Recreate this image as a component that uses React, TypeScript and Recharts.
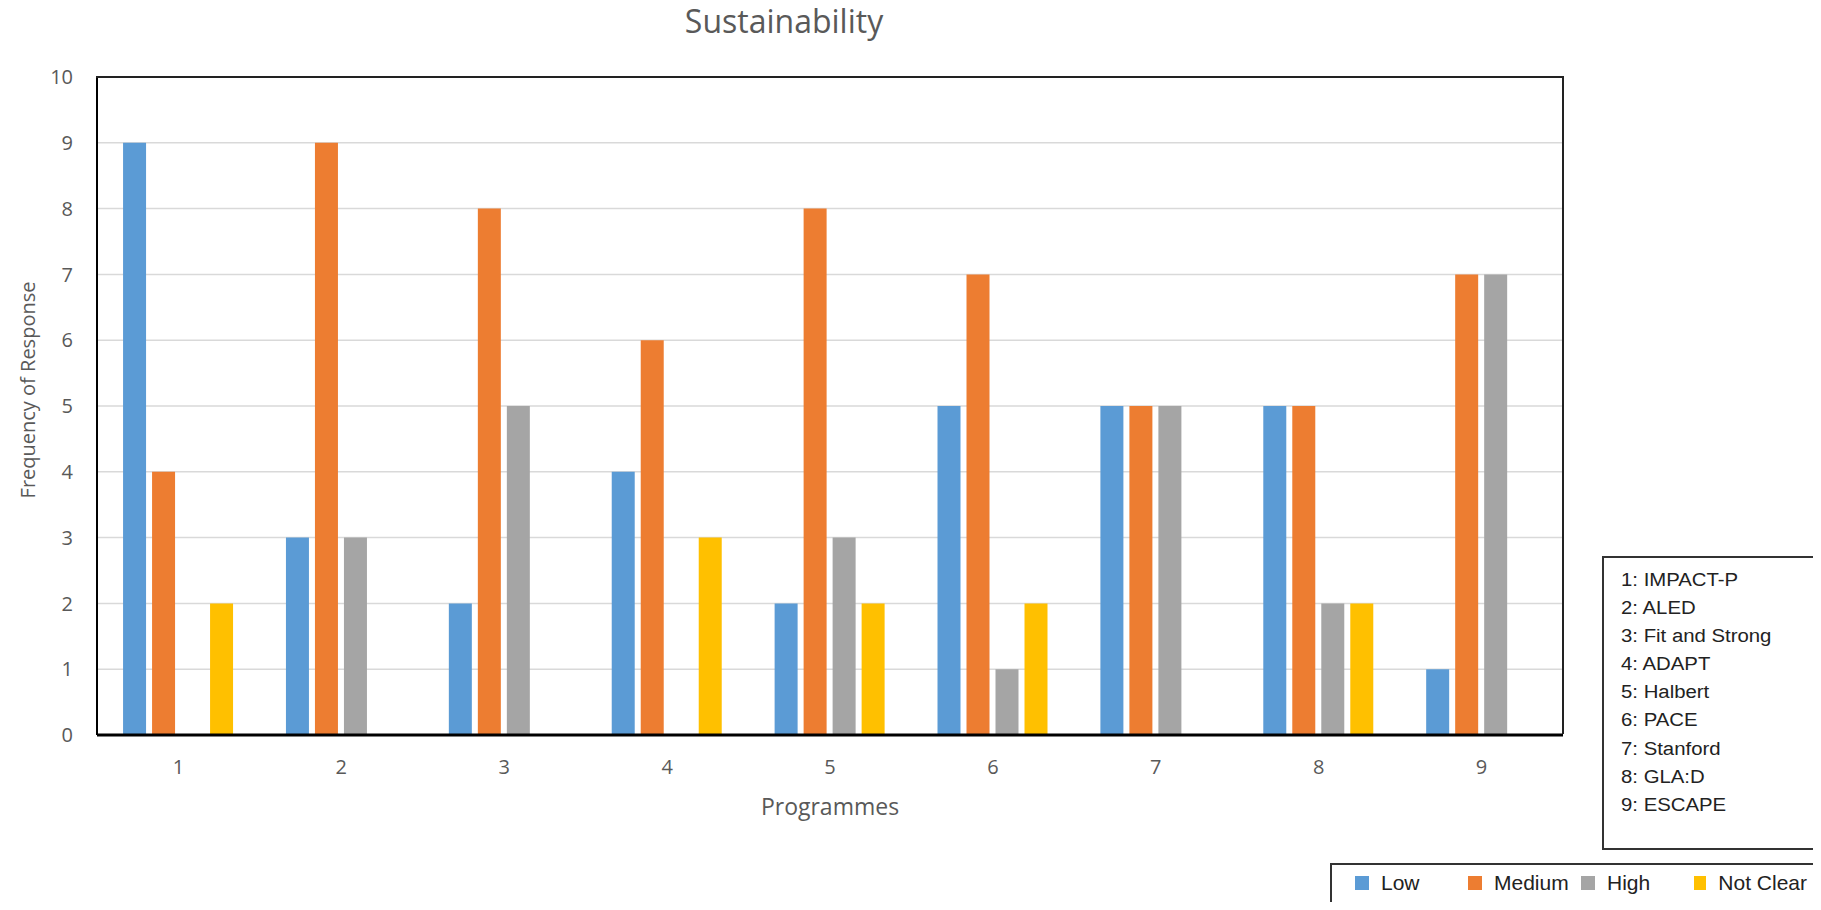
import React from 'react';
import { BarChart, Bar, XAxis, YAxis, CartesianGrid } from 'recharts';

const programmes = ['1', '2', '3', '4', '5', '6', '7', '8', '9'];
const programmeNames = ['IMPACT-P', 'ALED', 'Fit and Strong', 'ADAPT', 'Halbert', 'PACE', 'Stanford', 'GLA:D', 'ESCAPE'];

const low = [9, 3, 2, 4, 2, 5, 5, 5, 1];
const medium = [4, 9, 8, 6, 8, 7, 5, 5, 7];
const high = [0, 3, 5, 0, 3, 1, 5, 2, 7];
const notClear = [2, 0, 0, 3, 2, 2, 0, 2, 0];

const yTicks = [0, 1, 2, 3, 4, 5, 6, 7, 8, 9, 10];

const seriesList = [
  { key: 'low', name: 'Low', color: '#5B9BD5' },
  { key: 'medium', name: 'Medium', color: '#ED7D31' },
  { key: 'high', name: 'High', color: '#A5A5A5' },
  { key: 'notClear', name: 'Not Clear', color: '#FFC000' },
];

const chartData = programmes.map((p, i) => ({
  programme: p,
  low: low[i],
  medium: medium[i],
  high: high[i],
  notClear: notClear[i],
}));

const axisFont = '"Open Sans", sans-serif';
const axisColor = '#595959';

// plot area of the chart (margins + axis sizes below)
const plot = { left: 97, top: 77, right: 1563, bottom: 735 };

function YAxisTitle(props: any) {
  const vb = props.viewBox || { x: 37, y: 77, width: 60, height: 658 };
  const cx = vb.x - 10;
  const cy = vb.y + vb.height / 2 - 16;
  return (
    <text
      x={cx}
      y={cy}
      transform={`rotate(-90 ${cx} ${cy})`}
      textAnchor="middle"
      dominantBaseline="central"
      fontFamily={axisFont}
      fontSize={20}
      fill={axisColor}
    >
      Frequency of Response
    </text>
  );
}

export default function App() {
  return (
    <div style={{ position: 'relative', width: 1821, height: 910, margin: -8, background: '#fff', overflow: 'hidden' }}>
      <div
        style={{
          position: 'absolute',
          left: 0,
          top: 5,
          width: 1568,
          textAlign: 'center',
          fontFamily: axisFont,
          fontSize: 32,
          lineHeight: '32px',
          color: axisColor,
        }}
      >
        Sustainability
      </div>

      <BarChart
        width={1821}
        height={910}
        data={chartData}
        margin={{ top: plot.top, right: 1821 - plot.right, bottom: 95, left: 37 }}
        barCategoryGap="16%"
        barGap={6}
      >
        <CartesianGrid vertical={false} stroke="#d9d9d9" strokeWidth={1.5} />
        <XAxis
          dataKey="programme"
          height={80}
          axisLine={{ stroke: '#000', strokeWidth: 3 }}
          tickLine={false}
          tickSize={0}
          tickMargin={25}
          tick={{ fill: axisColor, fontSize: 20, fontFamily: axisFont }}
          label={{
            value: 'Programmes',
            position: 'insideBottom',
            offset: 0,
            fill: axisColor,
            fontSize: 23,
            fontFamily: axisFont,
          }}
        />
        <YAxis
          width={60}
          domain={[0, 10]}
          ticks={yTicks}
          interval={0}
          axisLine={{ stroke: '#000', strokeWidth: 2 }}
          tickLine={false}
          tickSize={0}
          tickMargin={24}
          tick={{ fill: axisColor, fontSize: 20, fontFamily: axisFont }}
          label={<YAxisTitle />}
        />
        {seriesList.map((s) => (
          <Bar key={s.key} dataKey={s.key} name={s.name} fill={s.color} isAnimationActive={false} />
        ))}
      </BarChart>

      {/* top and right frame of the plot area */}
      <div
        style={{
          position: 'absolute',
          left: plot.left - 1,
          top: plot.top - 1,
          width: plot.right - plot.left + 2,
          height: plot.bottom - plot.top,
          borderTop: '2px solid #222',
          borderRight: '2px solid #222',
          boxSizing: 'border-box',
          pointerEvents: 'none',
        }}
      />

      {/* programme key */}
      <div
        style={{
          position: 'absolute',
          left: 1602,
          top: 556,
          width: 212,
          height: 290,
          border: '2px solid #333',
          fontFamily: '"Liberation Sans", Arial, sans-serif',
          fontSize: 18,
          color: '#222',
          boxSizing: 'content-box',
        }}
      >
        <div style={{ position: 'absolute', left: 17, top: 8 }}>
          {programmeNames.map((n, i) => (
            <div
              key={n}
              style={{ height: 28.1, lineHeight: '28.1px', whiteSpace: 'nowrap', transform: 'scaleX(1.13)', transformOrigin: 'left center' }}
            >
              {programmes[i]}: {n}
            </div>
          ))}
        </div>
      </div>

      {/* series legend */}
      <div
        style={{
          position: 'absolute',
          left: 1330,
          top: 863,
          width: 487,
          height: 60,
          border: '2px solid #333',
          fontFamily: '"Liberation Sans", Arial, sans-serif',
          fontSize: 21,
          color: '#222',
        }}
      >
        <div style={{ position: 'absolute', left: 23, top: 6, display: 'flex' }}>
          {seriesList.map((s) => (
            <div key={s.key} style={{ width: 113, display: 'flex', alignItems: 'center', height: 24 }}>
              <span style={{ display: 'inline-block', width: 14, height: 14, background: s.color, marginRight: 12 }} />
              <span style={{ whiteSpace: 'nowrap' }}>{s.name}</span>
            </div>
          ))}
        </div>
      </div>
    </div>
  );
}
